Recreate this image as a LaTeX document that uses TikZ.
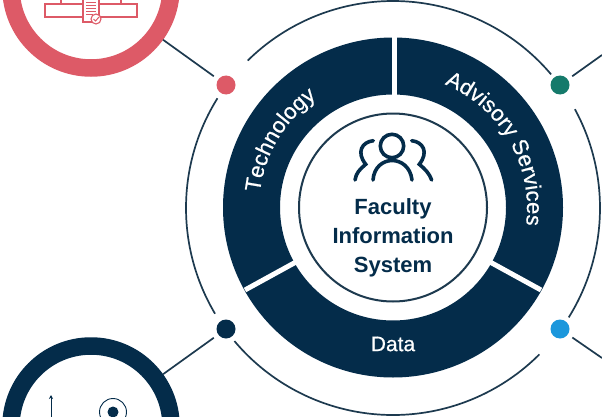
\documentclass[tikz,border=0pt]{standalone}
\usepackage{fontspec}
\setmainfont{Liberation Sans}
\newfontfamily\labfont{Liberation Sans}[FakeBold=0.6]
\newfontfamily\titlefont{Liberation Sans}[Scale=1]
\usetikzlibrary{decorations.text,arrows.meta}
\definecolor{navy}{HTML}{042C4A}
\definecolor{linec}{HTML}{1D3A4F}
\definecolor{rose}{HTML}{DD5A67}
\definecolor{teal2}{HTML}{157A6B}
\definecolor{sky}{HTML}{1B97DC}
\tikzset{
 dotnode/.style={circle,fill=#1,draw=none,minimum size=19pt,inner sep=0pt,outer sep=5.5pt},
 ringnode/.style={circle,draw=#1,line width=17.5pt,fill=white,minimum size=160pt,inner sep=0pt,outer sep=8.75pt},
 conn/.style={linec,line width=1.7pt},
 orbit/.style={linec,line width=1.7pt},
 sep/.style={white,line width=5pt},
 person/.style={navy,line width=3.6pt,line cap=round},
 rosei/.style={rose,line width=1.1pt,fill=white},
 title/.style={navy,font=\titlefont\bfseries\fontsize{22}{29}\selectfont,align=center},
 curved/.style={decorate,decoration={text along path,text align=center,text={|\labfont\fontsize{22}{24}\selectfont\color{white}|#1}}},
}
\begin{document}
\begin{tikzpicture}[x=1pt,y=1pt]
\useasboundingbox (0,0) rectangle (602,416);
\clip (0,0) rectangle (602,416);
\fill[white] (0,0) rectangle (602,416);
\coordinate (c) at (393,208);
% outer orbit arcs
\draw[orbit] (c) ++(134.6:207) arc[start angle=134.6,end angle=40.2,radius=207];
\draw[orbit] (c) ++(28.5:207) arc[start angle=28.5,end angle=-31.9,radius=207];
\draw[orbit] (c) ++(-45:207) arc[start angle=-45,end angle=-140,radius=207];
\draw[orbit] (c) ++(148:207) arc[start angle=148,end angle=210.7,radius=207];
% donut
\fill[navy,even odd rule] (393,208.5) circle[radius=170] (393,208.5) circle[radius=113];
\draw[sep] (394.5,208.5) ++(0,112) -- ++(0,60);
\draw[sep] (245,126) -- (296,154);
\draw[sep] (541,126) -- (490,154);
% inner circle
\draw[linec,line width=2pt] (393,208.5) circle[radius=94];
% people icon
\draw[person] (392,270) circle[radius=11.7];
\draw[person] (373,236) .. controls (375,262) and (409,262) .. (412,236);
\draw[person] (373.3,275.3) .. controls (362,274) and (356,264) .. (365.7,251.7) .. controls (360,247) and (356,243) .. (355,236);
\draw[person] (411.7,275.3) .. controls (423,274) and (429,264) .. (419.3,251.7) .. controls (425,247) and (429,243) .. (431.7,236);
% titles
\node[title] (fis) at (393,178) {Faculty\\Information\\System};
\node[font=\labfont\fontsize{21}{24}\selectfont,white] (data) at (393,72) {Data};
\path[curved=Technology] (c) ++(200:134) arc[start angle=200,end angle=98,radius=134];
\path[curved=Advisory Services] (c) ++(81:134) arc[start angle=81,end angle=-21,radius=134];
% rings
\node[ringnode=rose] (pink) at (91,428) {};
\node[ringnode=navy] (blue) at (91,-10) {};
% rose icon
\draw[rosei] (61,416) -- (61,412) (121,416) -- (121,412);
\draw[rosei] (45,399) rectangle (137,412);
\draw[rosei] (83,394) rectangle (99,418);
\draw[rose,line width=.8pt] (86,414) -- (96,414) (86,411) -- (96,411) (86,408) -- (96,408) (86,405) -- (96,405) (86,402) -- (93,402);
\node[circle,draw=rose,fill=white,line width=1.1pt,minimum size=10pt,inner sep=0pt] (badge) at (96,397) {};
\draw[rose,line width=1pt] (93.5,397) -- (95.5,395) -- (99,399);
% navy icon
\draw[navy,line width=1pt,-{Stealth[length=4pt,width=4pt]}] (51,-2) -- (51,21);
\node[circle,draw=navy,line width=.9pt,minimum size=27pt,inner sep=0pt] (tgt) at (113,4) {};
\node[circle,fill=navy,minimum size=11pt,inner sep=0pt] (tgtdot) at (113,4) {};
% dots
\node[dotnode=rose] (d1) at (226,331) {};
\node[dotnode=teal2] (d2) at (560,331) {};
\node[dotnode=sky] (d3) at (560,87) {};
\node[dotnode=navy] (d4) at (226,87) {};
\coordinate (e2) at (602,361);
\coordinate (e3) at (602,58);
\draw[conn] (pink) -- (d1);
\draw[conn] (blue) -- (d4);
\draw[conn] (d2) -- (e2);
\draw[conn] (d3) -- (e3);
\end{tikzpicture}
\end{document}
